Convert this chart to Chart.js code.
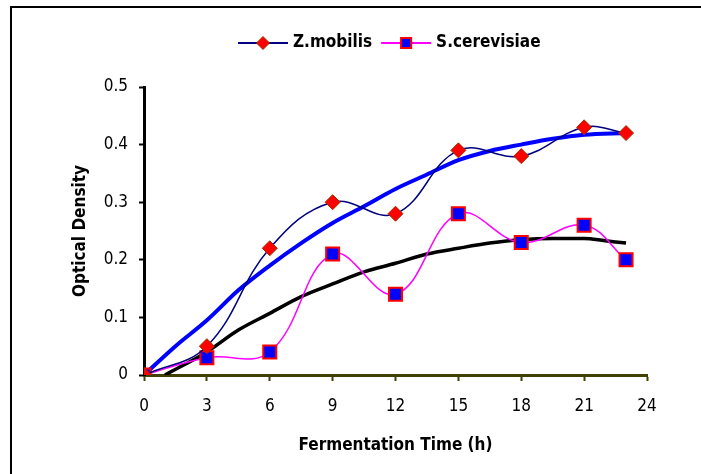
<!DOCTYPE html>
<html>
<head>
<meta charset="utf-8">
<script src="https://cdn.jsdelivr.net/npm/chart.js@4/dist/chart.umd.min.js"></script>
<style>
  html, body { margin: 0; padding: 0; background: #fff; }
  canvas { display: block; }
</style>
</head>
<body>
<canvas id="chartOD" width="701" height="474"></canvas>
<script>
const hours = [0, 3, 6, 9, 12, 15, 18, 21, 23];
const zMobilis = [0, 0.05, 0.22, 0.30, 0.28, 0.39, 0.38, 0.43, 0.42];
const sCerevisiae = [0, 0.03, 0.04, 0.21, 0.14, 0.28, 0.23, 0.26, 0.20];

// trendlines
const trendZHours = [0, 1.5, 3, 4.5, 6, 7.5, 9, 10.5, 12, 13.5, 15, 16.5, 18, 19.5, 21, 23];
const trendZ = [0, 0.05, 0.095, 0.147, 0.19, 0.229, 0.264, 0.293, 0.323, 0.348, 0.373, 0.389, 0.40, 0.41, 0.417, 0.42];
const trendSHours = [1, 3, 4.5, 6, 7.5, 9, 10.5, 12, 13.5, 15, 16.5, 18, 19.5, 21, 22, 23];
const trendS = [0, 0.04, 0.078, 0.107, 0.136, 0.158, 0.179, 0.194, 0.21, 0.22, 0.229, 0.235, 0.237, 0.237, 0.233, 0.229];

const xTicks = [0, 3, 6, 9, 12, 15, 18, 21, 24];
const yTicks = [0, 0.1, 0.2, 0.3, 0.4, 0.5];

const font = "'Liberation Sans Narrow', 'Arial Narrow', 'DejaVu Sans Condensed', sans-serif";

function pts(xs, ys) {
  return xs.map((x, i) => ({ x: x, y: ys[i] }));
}

const framePlugin = {
  id: 'frame',
  beforeDraw(chart) {
    const ctx = chart.ctx;
    ctx.save();
    ctx.fillStyle = '#fff';
    ctx.fillRect(0, 0, chart.width, chart.height);
    ctx.fillStyle = '#000';
    ctx.fillRect(10, 6, chart.width - 10, 2);
    ctx.fillRect(10, 6, 2, chart.height - 6);
    ctx.restore();
  }
};

// legend with a line through the marker, like the original
const legendPlugin = {
  id: 'lineLegend',
  afterDraw(chart) {
    const ctx = chart.ctx;
    const y = 43;
    let x = 238;
    const sizes = [6.5, 7];
    ctx.save();
    ctx.font = 'bold 17px ' + font;
    ctx.textBaseline = 'middle';
    chart.data.datasets.slice(0, 2).forEach((ds, i) => {
      ctx.strokeStyle = ds.borderColor;
      ctx.lineWidth = 2;
      ctx.beginPath();
      ctx.moveTo(x, y);
      ctx.lineTo(x + 50, y);
      ctx.stroke();
      const cx = x + 25;
      const r = sizes[i];
      ctx.beginPath();
      if (ds.pointStyle === 'rectRot') {
        ctx.moveTo(cx - r, y);
        ctx.lineTo(cx, y - r);
        ctx.lineTo(cx + r, y);
        ctx.lineTo(cx, y + r);
        ctx.closePath();
      } else {
        ctx.rect(cx - r * 0.72, y - r * 0.72, r * 1.44, r * 1.44);
      }
      ctx.fillStyle = ds.pointBackgroundColor;
      ctx.fill();
      ctx.strokeStyle = ds.pointBorderColor;
      ctx.lineWidth = ds.pointBorderWidth;
      ctx.stroke();
      ctx.fillStyle = '#000';
      ctx.fillText(ds.label, x + 55, y);
      x += 55 + ctx.measureText(ds.label).width + 9;
    });
    ctx.restore();
  }
};

new Chart(document.getElementById('chartOD'), {
  type: 'line',
  data: {
    datasets: [
      {
        label: 'Z.mobilis',
        data: pts(hours, zMobilis),
        borderColor: '#000080',
        borderWidth: 1.5,
        tension: 0.4,
        pointStyle: 'rectRot',
        pointRadius: 7.5,
        pointBackgroundColor: '#ff0000',
        pointBorderColor: '#993300',
        pointBorderWidth: 1
      },
      {
        label: 'S.cerevisiae',
        data: pts(hours, sCerevisiae),
        borderColor: '#ff00ff',
        borderWidth: 1.5,
        tension: 0.4,
        pointStyle: 'rect',
        pointRadius: 9.2,
        pointBackgroundColor: '#0000ff',
        pointBorderColor: '#ff0000',
        pointBorderWidth: 2
      },
      {
        label: 'Trend Z.mobilis',
        data: pts(trendZHours, trendZ),
        borderColor: '#0000ff',
        borderWidth: 4,
        pointRadius: 0,
        cubicInterpolationMode: 'monotone'
      },
      {
        label: 'Trend S.cerevisiae',
        data: pts(trendSHours, trendS),
        borderColor: '#000000',
        borderWidth: 3.5,
        pointRadius: 0,
        cubicInterpolationMode: 'monotone'
      }
    ]
  },
  options: {
    responsive: false,
    animation: false,
    layout: { padding: { top: 87, left: 14, right: 54, bottom: 10 } },
    plugins: { legend: { display: false }, tooltip: { enabled: false } },
    scales: {
      x: {
        type: 'linear',
        min: xTicks[0],
        max: xTicks[xTicks.length - 1],
        afterFit: (s) => { s.height = 89; },
        afterBuildTicks: (s) => { s.ticks = xTicks.map((v) => ({ value: v })); },
        ticks: { color: '#000', font: { family: font, size: 17 }, padding: 15, maxRotation: 0 },
        grid: { drawOnChartArea: false, tickLength: 6, tickWidth: 2, color: '#404000' },
        border: { color: '#404000', width: 3 },
        title: {
          display: true,
          text: 'Fermentation Time (h)',
          color: '#000',
          font: { family: font, size: 17, weight: 'bold' },
          padding: { top: 0, bottom: 8 }
        }
      },
      y: {
        min: yTicks[0],
        max: yTicks[yTicks.length - 1],
        afterFit: (s) => { s.width = 130; },
        afterBuildTicks: (s) => { s.ticks = yTicks.map((v) => ({ value: v })); },
        ticks: {
          color: '#000',
          font: { family: font, size: 17 },
          padding: 11,
          callback: (v) => (v === 0 ? '0' : v.toFixed(1))
        },
        grid: { drawOnChartArea: false, tickLength: 5, tickWidth: 2, color: '#000' },
        border: { color: '#000', width: 3 },
        title: {
          display: true,
          text: 'Optical Density',
          color: '#000',
          font: { family: font, size: 17, weight: 'bold' },
          padding: { top: 56, bottom: 0 }
        }
      }
    }
  },
  plugins: [framePlugin, legendPlugin]
});
</script>
</body>
</html>
